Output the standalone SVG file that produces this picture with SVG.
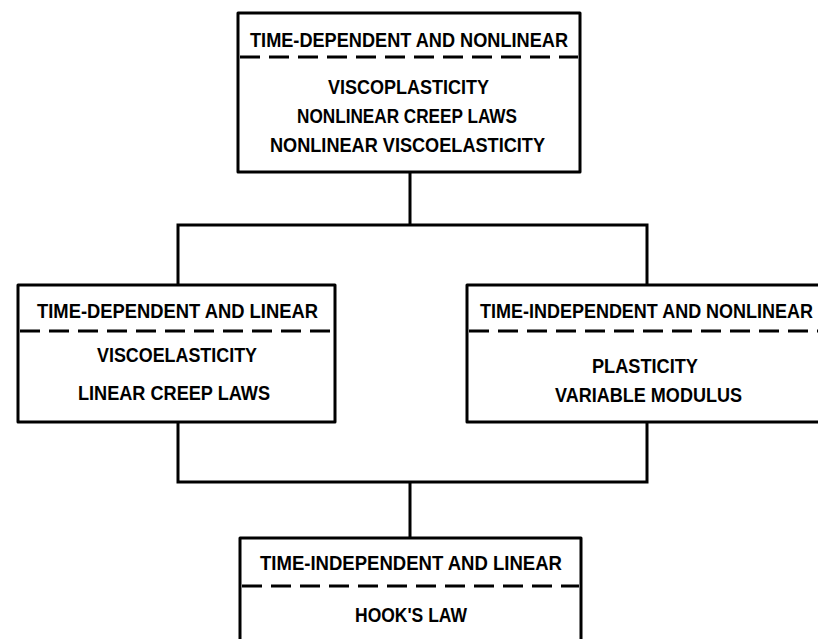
<svg xmlns="http://www.w3.org/2000/svg" width="818" height="639" viewBox="0 0 818 639">
<style>
.box{fill:#fff;stroke:#000;stroke-width:3;stroke-linejoin:round}
.dash{stroke:#000;stroke-width:3;stroke-dasharray:20 9;fill:none}
.conn{stroke:#000;stroke-width:3;fill:none;stroke-linecap:square}
text{font-family:"Liberation Sans",Arial,sans-serif;font-weight:bold;font-size:21px;fill:#000}
</style>
<rect width="818" height="639" fill="#fff"/>
<g id="connectors">
<path class="conn" d="M410,172 V225 M178,225 H647 M178,225 V285 M647,225 V285"/>
<path class="conn" d="M178,422 V482 M647,422 V482 M178,482 H647 M410,482 V538"/>
</g>
<g id="top">
<rect class="box" x="238" y="13" width="342" height="159"/>
<line class="dash" x1="240" y1="57" x2="578" y2="57"/>
<text x="250" y="47" textLength="318" lengthAdjust="spacingAndGlyphs">TIME-DEPENDENT AND NONLINEAR</text>
<text x="328" y="94" textLength="161" lengthAdjust="spacingAndGlyphs">VISCOPLASTICITY</text>
<text x="297" y="123" textLength="220" lengthAdjust="spacingAndGlyphs">NONLINEAR CREEP LAWS</text>
<text x="270" y="152" textLength="275" lengthAdjust="spacingAndGlyphs">NONLINEAR VISCOELASTICITY</text>
</g>
<g id="left">
<rect class="box" x="18" y="285" width="317" height="137"/>
<line class="dash" x1="20" y1="331" x2="333" y2="331"/>
<text x="37" y="318" textLength="281" lengthAdjust="spacingAndGlyphs">TIME-DEPENDENT AND LINEAR</text>
<text x="97" y="362" textLength="160" lengthAdjust="spacingAndGlyphs">VISCOELASTICITY</text>
<text x="78" y="400" textLength="192" lengthAdjust="spacingAndGlyphs">LINEAR CREEP LAWS</text>
</g>
<g id="right">
<rect class="box" x="467" y="285" width="360" height="137"/>
<line class="dash" x1="469" y1="331" x2="818" y2="331"/>
<text x="480" y="318" textLength="333" lengthAdjust="spacingAndGlyphs">TIME-INDEPENDENT AND NONLINEAR</text>
<text x="592" y="373" textLength="106" lengthAdjust="spacingAndGlyphs">PLASTICITY</text>
<text x="555" y="402" textLength="187" lengthAdjust="spacingAndGlyphs">VARIABLE MODULUS</text>
</g>
<g id="bottom">
<rect class="box" x="240" y="538" width="341" height="120"/>
<line class="dash" x1="242" y1="586" x2="579" y2="586"/>
<text x="260" y="570" textLength="302" lengthAdjust="spacingAndGlyphs">TIME-INDEPENDENT AND LINEAR</text>
<text x="355" y="622" textLength="112" lengthAdjust="spacingAndGlyphs">HOOK'S LAW</text>
</g>
</svg>
